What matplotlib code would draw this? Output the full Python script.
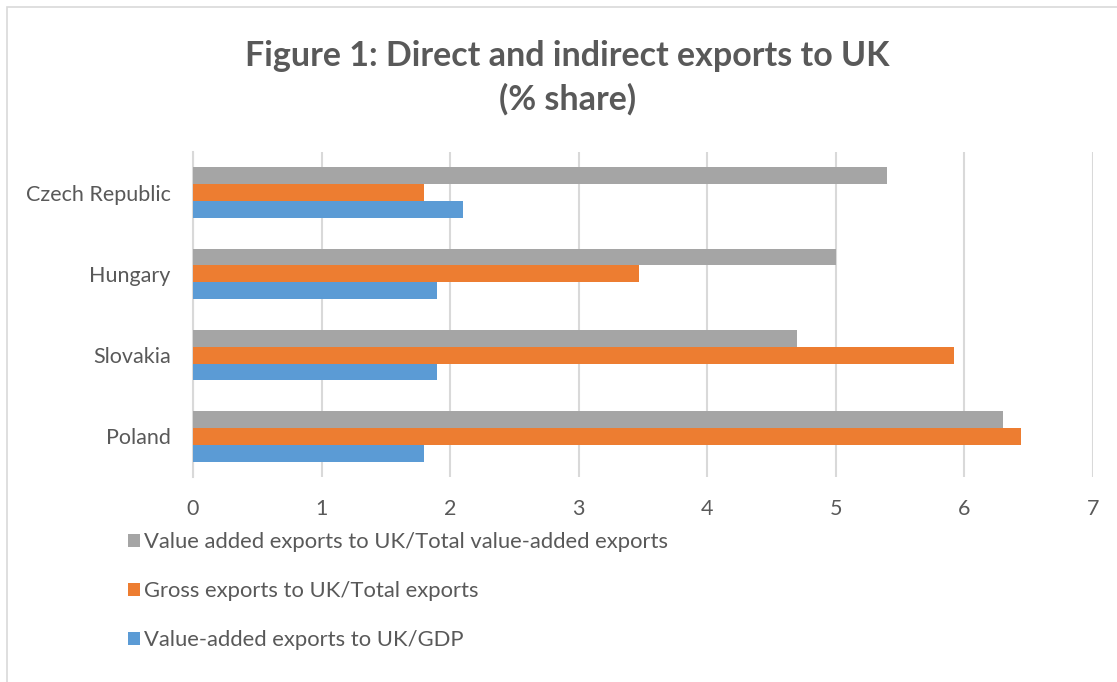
import matplotlib
matplotlib.use("Agg")
import matplotlib.pyplot as plt
from matplotlib.patches import Rectangle
import numpy as np

plt.rcParams['font.family'] = ['Lato', 'DejaVu Sans']

countries = ["Poland", "Slovakia", "Hungary", "Czech Republic"]
va_gdp = [1.8, 1.9, 1.9, 2.1]          # Value-added exports to UK/GDP
gross_total = [6.44, 5.92, 3.47, 1.8]  # Gross exports to UK/Total exports
va_total = [6.3, 4.7, 5.0, 5.4]        # Value added exports to UK/Total value-added exports
x_ticks = [0, 1, 2, 3, 4, 5, 6, 7]

series_labels = [
    "Value-added exports to UK/GDP",
    "Gross exports to UK/Total exports",
    "Value added exports to UK/Total value-added exports",
]
colors = ["#5B9BD5", "#ED7D31", "#A5A5A5"]
text_color = "#595959"
grid_color = "#D9D9D9"

W, H = 1117, 682
fig = plt.figure(figsize=(W / 100, H / 100), dpi=100)

# chart-area outline
fig.patches.append(Rectangle((7 / W, -0.1), 1.2, 1 - 7 / H + 0.1,
                             transform=fig.transFigure, fill=False,
                             edgecolor=grid_color, linewidth=1.2))

ax = fig.add_axes([193 / W, 1 - 477 / H, 900 / W, 325 / H])

y = np.arange(len(countries))
bh = 0.207
handles = []
for i, (vals, col, lab) in enumerate(zip([va_gdp, gross_total, va_total], colors, series_labels)):
    b = ax.barh(y + (i - 1) * bh, vals, height=bh, color=col, label=lab, zorder=3)
    handles.append(b)

ax.set_xlim(0, 7)
ax.set_ylim(-0.5, len(countries) - 0.5)
ax.set_xticks(x_ticks)
ax.set_yticks(y)
ax.set_yticklabels(countries)
ax.xaxis.grid(True, color=grid_color, linewidth=1.5, zorder=0)
for s in ["top", "right", "bottom"]:
    ax.spines[s].set_visible(False)
ax.spines["left"].set_color(grid_color)
ax.spines["left"].set_linewidth(1.5)
ax.tick_params(axis="both", length=0, labelsize=15.5, labelcolor=text_color)
ax.tick_params(axis="x", pad=16)
ax.tick_params(axis="y", pad=16)

fig.text(0.5 * (245 + 890) / W, 1 - 40 / H,
         "Figure 1: Direct and indirect exports to UK\n(% share)",
         ha="center", va="top", fontsize=24.5, fontweight="bold",
         color=text_color, linespacing=1.4)

leg = fig.legend(handles=handles[::-1], labels=series_labels[::-1],
                 loc="upper left", bbox_to_anchor=(117 / W, 1 - 521 / H),
                 frameon=False, fontsize=15.8, handlelength=0.55, handleheight=0.55,
                 handletextpad=0.2, labelspacing=1.32, borderpad=0)
for t in leg.get_texts():
    t.set_color(text_color)

fig.savefig("out.png", dpi=100)
